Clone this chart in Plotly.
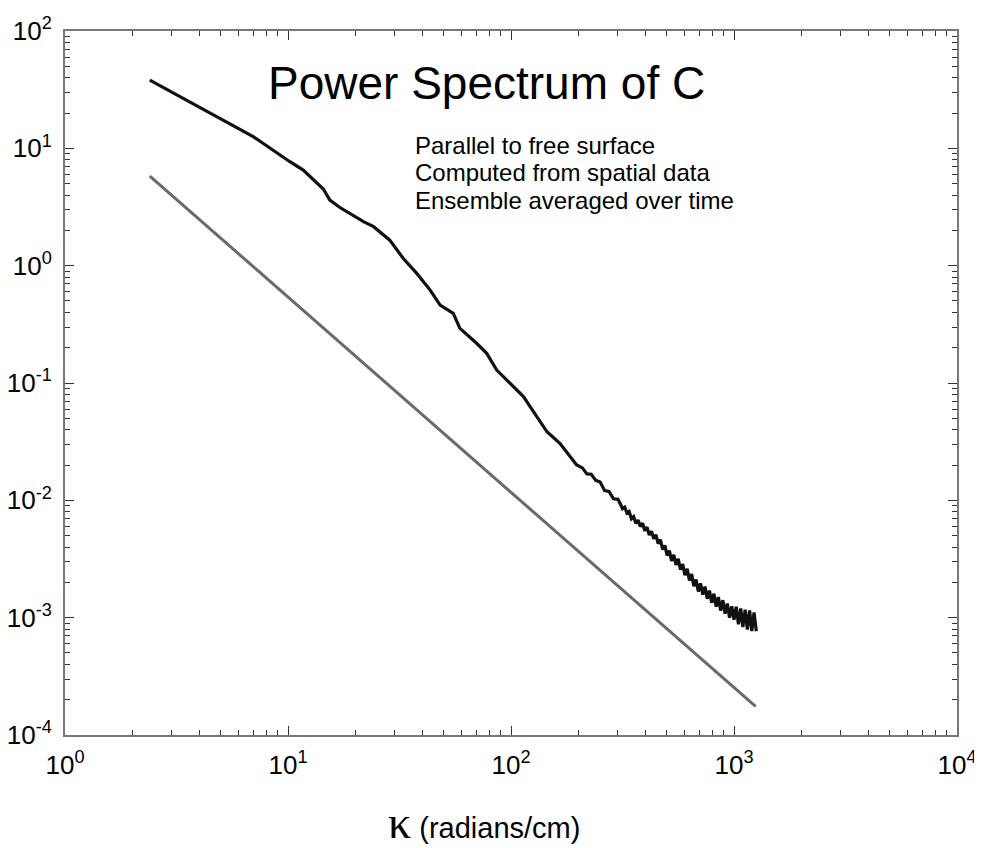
import plotly.graph_objects as go

# Black curve: power spectrum (kappa in radians/cm, spectrum value)
k_spec = [2.40, 4.47, 6.98, 10.2, 11.7, 14.4, 15.4, 17.1, 21.8, 24.2, 28.6, 32.9,
          37.8, 43.4, 48.1, 55.1, 59.0, 70.1, 77.8, 86.3, 102, 114, 122, 145, 166, 197,
          209, 219, 229, 240, 251, 263, 275, 288, 302,
          316.2, 323.6, 331.1, 338.8, 346.7, 354.8, 363.1, 371.5, 380.2, 389.0,
          398.1, 407.4, 416.9, 426.6, 436.5, 446.7, 457.1, 467.7, 478.6, 489.8,
          501.2, 512.9, 524.8, 537.0, 549.5, 562.3, 575.4, 588.8, 602.6, 616.6,
          631.0, 645.7, 660.7, 676.1, 691.8, 707.9, 724.4, 741.3, 758.6, 776.2,
          794.3, 812.8, 831.8, 851.1, 871.0, 891.3, 912.0, 933.3, 955.0, 977.2,
          1000, 1023, 1047, 1072, 1096, 1122, 1148, 1175, 1202, 1230, 1259]
p_spec = [38.2, 19.9, 12.6, 7.69, 6.53, 4.5, 3.62, 3.13, 2.37, 2.15, 1.65, 1.15,
          0.859, 0.619, 0.461, 0.392, 0.292, 0.218, 0.179, 0.129, 0.0929, 0.0762, 0.0627,
          0.0384, 0.0305, 0.0200,
          0.0189, 0.0168, 0.0167, 0.0148, 0.01435, 0.0121, 0.0119, 0.0103, 0.0102,
          0.00851, 0.00876, 0.00780, 0.00804, 0.00697, 0.00726, 0.00635, 0.00678, 0.00598, 0.00638,
          0.00551, 0.00591, 0.00506, 0.00546, 0.00471, 0.00509, 0.00427, 0.00462, 0.00381, 0.00413,
          0.00339, 0.00373, 0.00305, 0.00343, 0.00282, 0.00317, 0.00256, 0.00286, 0.00230, 0.00261,
          0.00208, 0.00235, 0.00185, 0.00211, 0.00167, 0.00196, 0.00157, 0.00184, 0.00145, 0.00170,
          0.00134, 0.00160, 0.00124, 0.00150, 0.00115, 0.00141, 0.00108, 0.00132, 0.00100, 0.00125,
          0.000962, 0.00124, 0.000879, 0.00120, 0.000832, 0.00117, 0.000791, 0.00115, 0.000767, 0.00111,
          0.000766]

# Gray reference line (-5/3 slope)
k_ref = [2.40, 1250]
p_ref = [5.8, 1.75e-4]

# Tick labels
x_tickvals = [1, 10, 100, 1000, 10000]
x_ticktext = ["10<sup>0</sup>", "10<sup>1</sup>", "10<sup>2</sup>", "10<sup>3</sup>", "10<sup>4</sup>"]
y_tickvals = [1e-4, 1e-3, 1e-2, 1e-1, 1, 10, 100]
y_ticktext = ["10<sup>-4</sup>", "10<sup>-3</sup>", "10<sup>-2</sup>", "10<sup>-1</sup>",
              "10<sup>0</sup>", "10<sup>1</sup>", "10<sup>2</sup>"]

title_text = "Power Spectrum of C"
notes = ["Parallel to free surface", "Computed from spatial data", "Ensemble averaged over time"]
x_title = "<span style=\"font-family:'Liberation Serif';font-size:46px\">κ</span> (radians/cm)"

FONT = "Liberation Sans, Arial, sans-serif"

fig = go.Figure()
fig.add_trace(go.Scatter(x=k_ref, y=p_ref, mode="lines",
                         line=dict(color="#6a6a6a", width=3), showlegend=False))
fig.add_trace(go.Scatter(x=k_spec, y=p_spec, mode="lines",
                         line=dict(color="#111111", width=3.2), showlegend=False))

axis_common = dict(
    type="log", tickmode="array",
    ticks="inside", ticklen=9, tickwidth=1, tickcolor="#333",
    showline=True, linecolor="#777", linewidth=2, mirror="allticks",
    showgrid=False, zeroline=False, automargin=False,
    tickfont=dict(family=FONT, size=26, color="black"),
    minor=dict(ticks="inside", ticklen=5, tickwidth=1, tickcolor="#333",
               dtick="D1", showgrid=False),
)

# The page body adds an 8px offset, so the figure is 8px smaller than the window.
fig.update_layout(
    width=974, height=840,
    margin=dict(l=57, r=25, t=23, b=113),
    plot_bgcolor="white", paper_bgcolor="white",
    font=dict(family=FONT, color="black"),
    xaxis=dict(range=[0, 4], tickvals=x_tickvals, ticktext=x_ticktext,
               ticklabelstandoff=6, **axis_common),
    yaxis=dict(range=[-4, 2], tickvals=y_tickvals, ticktext=y_ticktext,
               ticklabelstandoff=6, **axis_common),
)

fig.add_annotation(text=title_text, xref="paper", yref="paper", x=0.473, y=0.926,
                   showarrow=False, xanchor="center", yanchor="middle",
                   font=dict(family=FONT, size=46, color="black"))
for i, line in enumerate(notes):
    fig.add_annotation(text=line, xref="paper", yref="paper", x=0.390,
                       y=(735 - 145 - 27.5 * i) / 704,
                       showarrow=False, xanchor="left", yanchor="middle",
                       font=dict(family=FONT, size=24, color="black"))

fig.add_annotation(text=x_title, xref="paper", yref="paper", x=0.4695,
                   y=(735 - 822) / 704, showarrow=False, xanchor="center",
                   yanchor="middle", font=dict(family=FONT, size=29, color="black"))

fig.write_html("out.html")
